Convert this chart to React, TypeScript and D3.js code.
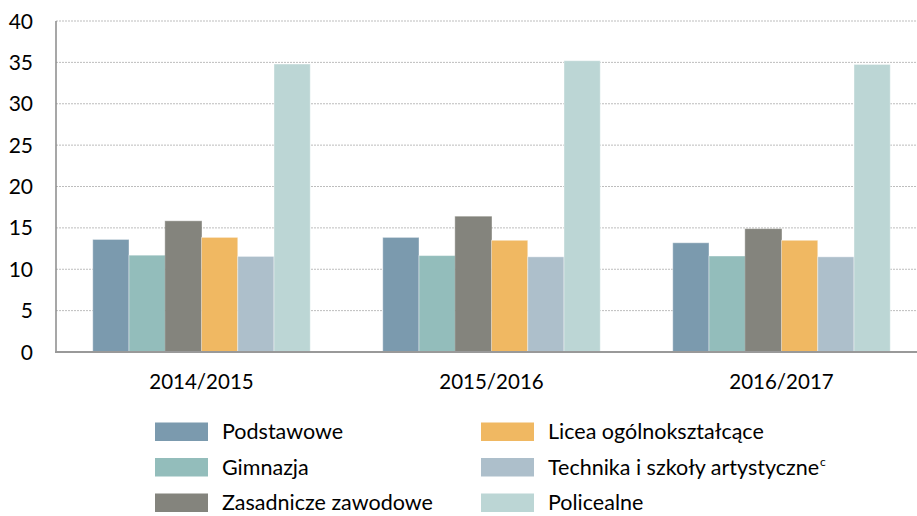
import * as d3 from "d3";

const years = ["2014/2015", "2015/2016", "2016/2017"];
const seriesNames = [
  "Podstawowe",
  "Gimnazja",
  "Zasadnicze zawodowe",
  "Licea ogólnokształcące",
  "Technika i szkoły artystyczne",
  "Policealne",
];
const podstawowe = [13.6, 13.85, 13.2];
const gimnazja = [11.7, 11.65, 11.6];
const zasadnicze = [15.8, 16.35, 14.85];
const licea = [13.85, 13.5, 13.5];
const technika = [11.55, 11.5, 11.5];
const policealne = [34.8, 35.2, 34.75];
const yTicks = [0, 5, 10, 15, 20, 25, 30, 35, 40];

const values = [podstawowe, gimnazja, zasadnicze, licea, technika, policealne];
const colors = ["#7b9aae", "#93bdbb", "#84847d", "#f0b862", "#adbfcb", "#bcd6d5"];

const W = 917;
const H = 516;
const FONT = "Lato, 'Open Sans', sans-serif";

export default function App() {
  const x0 = d3.scaleBand().domain(years).range([56.5, 926.5]).padding(0);
  const x1 = d3
    .scaleBand()
    .domain(seriesNames)
    .range([0, x0.bandwidth()])
    .paddingInner(0)
    .paddingOuter(1);
  const y = d3.scaleLinear().domain([0, 40]).range([352, 21]);

  // legend: two columns, three rows
  const legendCol = [155, 481];
  const legendRow = d3.scalePoint().domain(["0", "1", "2"]).range([431.5, 502.5]);

  return (
    <svg
      width={W}
      height={H}
      style={{ position: "absolute", left: 0, top: 0, background: "#fff" }}
      fontFamily={FONT}
    >
      {/* gridlines */}
      {yTicks.slice(1).map((t) => (
        <line
          key={t}
          x1={56}
          x2={W}
          y1={y(t)}
          y2={y(t)}
          stroke="#bdbdbd"
          strokeWidth={1}
          strokeDasharray="2,1"
        />
      ))}

      {/* bars */}
      {years.map((yr, i) => (
        <g key={yr} transform={`translate(${x0(yr)},0)`}>
          {seriesNames.map((s, j) => (
            <rect
              key={s}
              x={x1(s)!}
              y={y(values[j][i])}
              width={x1.bandwidth()}
              height={y(0) - y(values[j][i])}
              fill={colors[j]}
              stroke={j === 2 ? "#777770" : "#ffffff"}
              strokeOpacity={j === 2 ? 0.5 : 0.4}
              strokeWidth={1}
            />
          ))}
        </g>
      ))}

      {/* axes */}
      <line x1={56} x2={56} y1={21} y2={352} stroke="#8a8a8a" strokeWidth={1.5} />
      <line x1={55} x2={W} y1={352} y2={352} stroke="#999999" strokeWidth={2} />

      {/* y tick labels */}
      {yTicks.map((t) => (
        <text
          key={t}
          x={33}
          y={y(t)}
          dy="0.36em"
          textAnchor="end"
          fontSize={21}
          fill="#000"
        >
          {t}
        </text>
      ))}

      {/* x labels */}
      {years.map((yr) => (
        <text
          key={yr}
          x={x0(yr)! + x0.bandwidth() / 2}
          y={382}
          dy="0.36em"
          textAnchor="middle"
          fontSize={20.5}
          fill="#000"
        >
          {yr}
        </text>
      ))}

      {/* legend */}
      {seriesNames.map((s, j) => {
        const col = Math.floor(j / 3);
        const row = String(j % 3);
        const cy = legendRow(row)!;
        return (
          <g key={s}>
            <rect x={legendCol[col]} y={cy - 9} width={53} height={18.5} fill={colors[j]} />
            <text
              x={legendCol[col] + 67}
              y={cy}
              dy="0.36em"
              fontSize={21.5}
              fill="#000"
            >
              {s}
              {j === 4 ? (
                <tspan fontSize={12} dy="-0.7em" dx="1">
                  c
                </tspan>
              ) : null}
            </text>
          </g>
        );
      })}
    </svg>
  );
}
